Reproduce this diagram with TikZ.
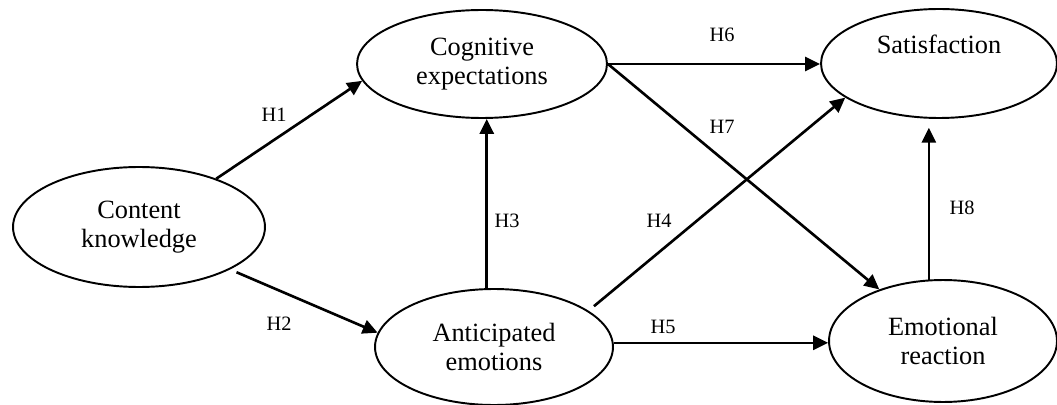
\documentclass[tikz,border=0pt]{standalone}
\usepackage{fontspec}
\setmainfont{Liberation Serif}
\usetikzlibrary{shapes.geometric,arrows.meta}
\tikzset{
  construct/.style={draw, ellipse, line width=1.1pt, inner sep=0pt, align=center,
    font=\fontsize{15}{16.5}\selectfont},
  hyp/.style={font=\fontsize{11.6}{14}\selectfont, inner sep=0pt},
  arr/.style={line width=1.5pt, -{Triangle[length=8.5pt,width=8pt]}}
}
\begin{document}
\begin{tikzpicture}[x=0.02cm,y=-0.02cm]
\useasboundingbox (0,0) rectangle (1057,405);
\clip (0,0) rectangle (1057,405);
% constructs
\node[construct, minimum width=5.04cm, minimum height=2.4cm] (ck) at (139,227) {Content\\knowledge};
\node[construct, minimum width=5.0cm, minimum height=2.16cm] (ce) at (482,64) {Cognitive\\expectations};
\node[construct, minimum width=4.76cm, minimum height=2.32cm] (ae) at (494,347) {Anticipated\\emotions};
\node[construct, minimum width=4.72cm, minimum height=2.18cm] (sa) at (939,63.5) {Satisfaction\\\strut};
\node[construct, minimum width=4.56cm, minimum height=2.44cm] (er) at (943,341) {Emotional\\reaction};
% hypotheses
\draw[arr] (ck.32) -- (ce.188);
\draw[arr, shorten <=6pt*0+4pt] (ck.-25) -- (ae.173.6);
\draw[arr] (ae.97) -- (ae.97 |- ce.south);
\draw[arr, shorten <=4pt] (ae.21.5) -- (sa.200);
\draw[arr] (ae.2) -- (ae.2 -| er.west);
\draw[arr] (ce.east) -- (ce.east -| sa.west);
\draw[arr] (ce.east) -- (er.141);
\draw[arr, shorten >=5pt] (er.103) -- (er.103 |- sa.south);
% labels
\node[hyp] (h1) at (274,115) {H1};
\node[hyp] (h2) at (279,324) {H2};
\node[hyp] (h3) at (507,221) {H3};
\node[hyp] (h4) at (659,221) {H4};
\node[hyp] (h5) at (663,327) {H5};
\node[hyp] (h6) at (722,35) {H6};
\node[hyp] (h7) at (722,127) {H7};
\node[hyp] (h8) at (962,208) {H8};
\end{tikzpicture}
\end{document}
